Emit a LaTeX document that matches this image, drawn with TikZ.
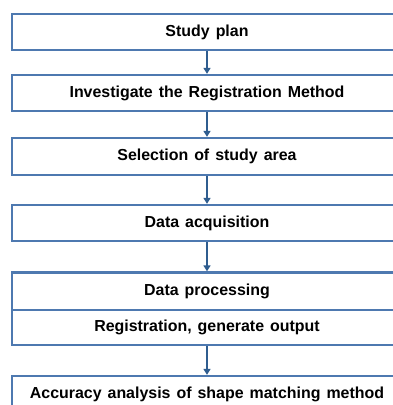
\documentclass[tikz,border=0pt]{standalone}
\usepackage{fontspec}
\setmainfont{Liberation Sans}
\usetikzlibrary{arrows.meta}
\definecolor{boxblue}{HTML}{4E79B0}
\definecolor{arrowblue}{HTML}{2F5D8F}
\newcommand{\stepfont}{\bfseries\fontsize{16}{18}\selectfont\spaceskip=6bp plus 1bp minus 1bp\relax}
\begin{document}
\begin{tikzpicture}[x=1bp,y=-1bp,
  stepbox/.style={draw=boxblue,line width=2.3bp,fill=white,minimum width=390bp,
    minimum height=36bp,inner sep=0pt,font=\stepfont},
  flow/.style={draw=arrowblue,line width=1.6bp,-{Triangle[length=6bp,width=7bp]}}]
\useasboundingbox (0,0) rectangle (393,405);
\clip (0,0) rectangle (393,405);
\fill[white] (0,0) rectangle (393,405);
\node[stepbox] (b1) at (207,32) {Study plan};
\node[stepbox] (b2) at (207,93) {Investigate the Registration Method};
\node[stepbox,minimum height=37bp] (b3) at (207,156.5) {Selection of study area};
\node[stepbox] (b4) at (207,223) {Data acquisition};
\node[stepbox,minimum height=37.5bp] (b5a) at (207,291.25) {Data processing};
\node[stepbox,minimum height=35bp] (b5b) at (207,327.5) {Registration, generate output};
\node[stepbox] (b6) at (207,394) {Accuracy analysis of shape matching method};
\draw[flow] (b1.south) -- (b2.north);
\draw[flow] (b2.south) -- (b3.north);
\draw[flow] (b3.south) -- (b4.north);
\draw[flow] (b4.south) -- (b5a.north);
\draw[flow] (b5b.south) -- (b6.north);
\end{tikzpicture}
\end{document}
